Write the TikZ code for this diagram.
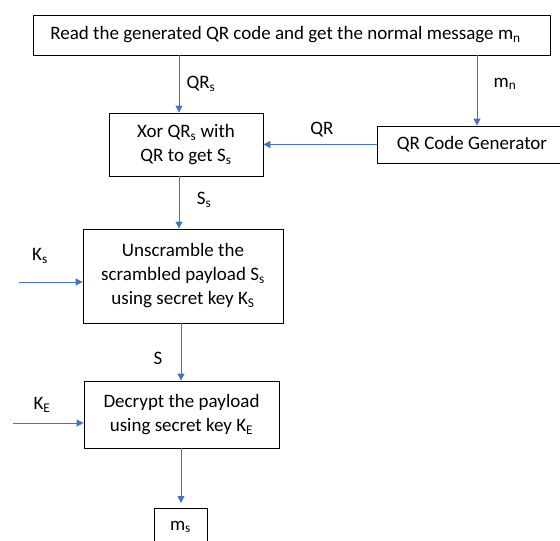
\documentclass[tikz,border=0pt]{standalone}
\usepackage{fontspec}
\setmainfont{Carlito}
\usetikzlibrary{arrows.meta}
\definecolor{arrowblue}{HTML}{4472C4}
\newcommand{\sbs}[1]{\textsubscript{#1}}
\tikzset{
  box/.style={draw=black, line width=0.8pt, rectangle, align=center, inner sep=0pt, font=\fontsize{19}{24}\selectfont},
  flow/.style={draw=arrowblue, line width=0.8pt, -{Triangle[length=7pt,width=7pt]}},
  lbl/.style={font=\fontsize{19}{24}\selectfont, inner sep=0pt}
}
\begin{document}
\begin{tikzpicture}[x=1pt,y=-1pt]
\useasboundingbox (0,0) rectangle (560,541);
\begin{scope}
\clip (0,0) rectangle (560,541);
\node[box, minimum width=517pt, minimum height=40pt] (read) at (291.5,35) {\hspace{-12pt}Read the generated QR code and get the normal message m\sbs{n}};
\node[box, minimum width=154pt, minimum height=63pt] (xor) at (186,144.5) {Xor QR\sbs{s} with\\QR to get S\sbs{s}};
\node[box, minimum width=190pt, minimum height=37pt] (gen) at (472,144.5) {QR Code Generator};
\node[box, minimum width=200pt, minimum height=94pt] (uns) at (183,276) {Unscramble the\\scrambled payload S\sbs{s}\\using secret key K\sbs{S}};
\node[box, minimum width=195pt, minimum height=67pt] (dec) at (181.5,414.5) {Decrypt the payload\\using secret key K\sbs{E}};
\node[box, minimum width=53pt, minimum height=40pt, anchor=north] (ms) at (180.5,508) {\raisebox{6pt}{m\sbs{s}}};
\coordinate (ks) at (19,282);
\coordinate (ke) at (13,423);
\coordinate (cm) at (477,0);
\coordinate (cq) at (179,0);
\coordinate (cc) at (181,0);
\draw[flow] (read.south -| cq) -- (xor.north -| cq);
\draw[flow] (read.south -| cm) -- (gen.north -| cm);
\draw[flow] (gen.west) -- (xor.east |- gen.west);
\draw[flow] (xor.south -| cq) -- (uns.north -| cq);
\draw[flow] (ks) -- (ks -| uns.west);
\draw[flow] (uns.south -| cc) -- (dec.north -| cc);
\draw[flow] (ke) -- (ke -| dec.west);
\draw[flow, shorten >=5pt] (dec.south -| cc) -- (ms.north -| cc);
\node[lbl] (lqrs) at (201,84) {QR\sbs{s}};
\node[lbl] (lmn) at (505,84) {m\sbs{n}};
\node[lbl] (lqr) at (322,130) {QR};
\node[lbl] (lss) at (204,200) {S\sbs{s}};
\node[lbl] (lks) at (40,256) {K\sbs{s}};
\node[lbl] (ls) at (158,358) {S};
\node[lbl] (lke) at (42,405) {K\sbs{E}};
\end{scope}
\end{tikzpicture}
\end{document}
